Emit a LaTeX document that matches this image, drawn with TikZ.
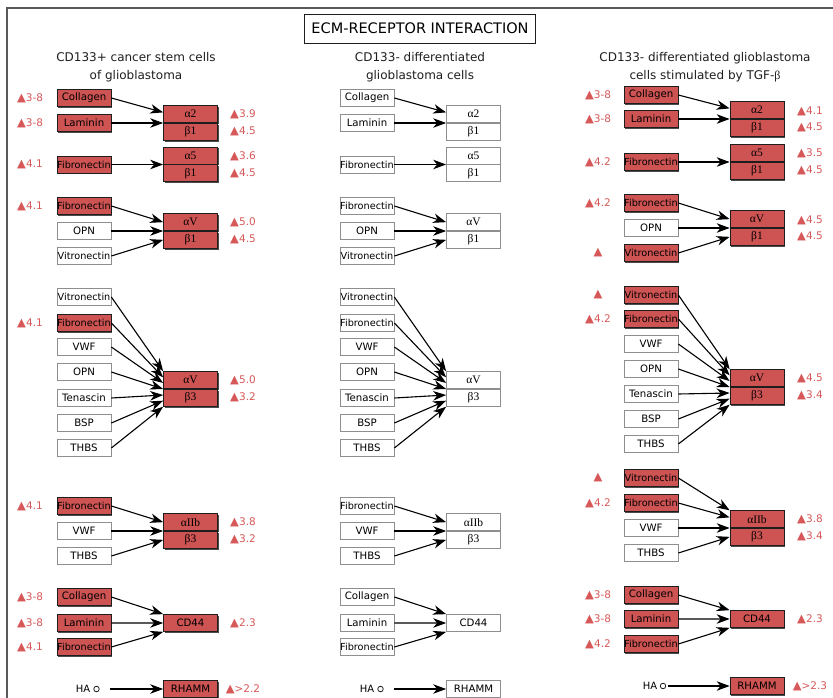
\documentclass[tikz,border=0pt]{standalone}
\usepackage{fontspec}
\setmainfont{DejaVu Sans}
\newfontfamily\rfam{Liberation Serif}
\usepackage{tikz}
\usetikzlibrary{arrows.meta,calc,shadows}
\definecolor{cR}{HTML}{CE5353}
\definecolor{cT}{HTML}{D75858}
\definecolor{cG}{HTML}{8E8E8E}
\definecolor{cK}{HTML}{1E1E1E}
\newcommand{\upm}{{\fontsize{11.5}{10}\selectfont ▲}}
% receptor made of two stacked halves
\newcommand{\rcp}[6]{%
  \node[#4,intg,anchor=south] (#1t) at (#2,#3) {#5};
  \node[#4,intg,anchor=north] (#1b) at (#2,#3) {#6};}
\tikzset{
  box/.style={draw=cG,fill=white,line width=0.7pt,minimum width=54pt,minimum height=17pt,inner sep=0pt,font=\fontsize{10.2}{10}\selectfont},
  boxr/.style={box,draw=cK,fill=cR,general shadow={fill=black!70,shadow xshift=1.3pt,shadow yshift=-1.3pt}},
  ligw/.style={box},
  ligr/.style={boxr},
  ligws/.style={box,font=\fontsize{9.7}{10}\selectfont},
  ligrs/.style={boxr,font=\fontsize{9.7}{10}\selectfont},
  recw/.style={box},
  recr/.style={boxr},
  intg/.style={font=\rfam\fontsize{11.5}{12}\selectfont},
  up/.style={text=cT,font=\fontsize{10.5}{10}\selectfont,inner sep=0pt},
  head/.style={align=center,font=\fontsize{12}{18}\selectfont,text=cK},
  ttl/.style={draw=cK,line width=0.9pt,minimum width=231pt,minimum height=29pt,font=\fontsize{14.5}{16}\selectfont},
  bind/.style={-{Stealth[length=13pt,width=9.5pt,inset=4pt]},line width=1.1pt,black},
  ha/.style={font=\fontsize{10}{10}\selectfont,inner sep=0pt},
  hadot/.style={circle,draw=cK,line width=0.8pt,minimum size=5.5pt,inner sep=0pt},
  frame/.style={draw=black!65,line width=1.5pt},
}
\begin{document}
\begin{tikzpicture}[x=1pt,y=-1pt]
\useasboundingbox (0,0) rectangle (833,698);
\draw[frame] (7,698) |- (833,8);
\node[ttl] (ttl) at (420,28.5) {ECM-RECEPTOR INTERACTION};
\node[head] (h1) at (136,67) {CD133+ cancer stem cells\\of glioblastoma};
\node[head] (h2) at (420,67) {CD133- differentiated\\glioblastoma cells};
\node[head] (h3) at (705,67) {CD133- differentiated glioblastoma\\cells stimulated by TGF-{\rfam β}};

% CD133+ cancer stem cells
\rcp{c1A}{190.5}{123}{recr}{α2}{β1}
\foreach \n/\txt/\y/\sty/\fr in {col/Collagen/98/ligr/.2,lam/Laminin/123/ligr/.5}{
  \node[\sty] (c1A\n) at (84,\y) {\txt};
  \draw[bind] (c1A\n.east) -- ($(c1At.north west)!\fr!(c1Ab.south west)$);}
\rcp{c1B}{190.5}{164.5}{recr}{α5}{β1}
\foreach \n/\txt/\y/\sty/\fr in {fib/Fibronectin/164.5/ligrs/.5}{
  \node[\sty] (c1B\n) at (84,\y) {\txt};
  \draw[bind] (c1B\n.east) -- ($(c1Bt.north west)!\fr!(c1Bb.south west)$);}
\rcp{c1C}{190.5}{231}{recr}{αV}{β1}
\foreach \n/\txt/\y/\sty/\fr in {fib/Fibronectin/206/ligrs/.25,opn/OPN/231/ligw/.5,vit/Vitronectin/256/ligws/.75}{
  \node[\sty] (c1C\n) at (84,\y) {\txt};
  \draw[bind] (c1C\n.east) -- ($(c1Ct.north west)!\fr!(c1Cb.south west)$);}
\rcp{c1D}{190.5}{389}{recr}{αV}{β3}
\foreach \n/\txt/\y/\sty/\fr in {vit/Vitronectin/297/ligws/0,fib/Fibronectin/323/ligrs/.17,vwf/VWF/347/ligw/.33,
    opn/OPN/372/ligw/.5,ten/Tenascin/398/ligw/.67,bsp/BSP/423/ligw/.83,thb/THBS/448/ligw/1}{
  \node[\sty] (c1D\n) at (84,\y) {\txt};
  \draw[bind] (c1D\n.east) -- ($(c1Dt.north west)!\fr!(c1Db.south west)$);}
\rcp{c1E}{190.5}{531}{recr}{αIIb}{β3}
\foreach \n/\txt/\y/\sty/\fr in {fib/Fibronectin/506/ligrs/.25,vwf/VWF/531/ligw/.5,thb/THBS/556/ligw/.75}{
  \node[\sty] (c1E\n) at (84,\y) {\txt};
  \draw[bind] (c1E\n.east) -- ($(c1Et.north west)!\fr!(c1Eb.south west)$);}
\node[recr] (c1F) at (190.5,623) {CD44};
\foreach \n/\txt/\y/\sty/\fr in {col/Collagen/597/ligr/0,lam/Laminin/623/ligr/.5,fib/Fibronectin/647/ligrs/1}{
  \node[\sty] (c1F\n) at (84,\y) {\txt};
  \draw[bind] (c1F\n.east) -- ($(c1F.north west)!\fr!(c1F.south west)$);}
\node[ha] (c1ha) at (83,689) {HA};
\node[hadot] (c1hao) at (96.5,689) {};
\coordinate (c1has) at (110,689);
\node[recr] (c1G) at (190.5,689) {RHAMM};
\draw[bind] (c1has) -- (c1G);
\foreach \y/\val [count=\k] in {98/3-8,123/3-8,164.5/4.1,206/4.1,323/4.1,506/4.1,597/3-8,623/3-8,647/4.1}
  \node[up] (c1l\k) at (30,\y) {\upm\val};
\foreach \y/\val [count=\k] in {114.5/3.9,131.5/4.5,156/3.6,173/4.5,222.5/5.0,239.5/4.5,380.5/5.0,397.5/3.2,
    522.5/3.8,539.5/3.2,623/2.3,689/>2.2}
  \node[up] (c1r\k) at (243,\y) {\upm\val};

% CD133- differentiated
\rcp{c2A}{473.5}{123}{recw}{α2}{β1}
\foreach \n/\txt/\y/\sty/\fr in {col/Collagen/98/ligw/.2,lam/Laminin/123/ligw/.5}{
  \node[\sty] (c2A\n) at (367,\y) {\txt};
  \draw[bind] (c2A\n.east) -- ($(c2At.north west)!\fr!(c2Ab.south west)$);}
\rcp{c2B}{473.5}{164.5}{recw}{α5}{β1}
\foreach \n/\txt/\y/\sty/\fr in {fib/Fibronectin/164.5/ligws/.5}{
  \node[\sty] (c2B\n) at (367,\y) {\txt};
  \draw[bind] (c2B\n.east) -- ($(c2Bt.north west)!\fr!(c2Bb.south west)$);}
\rcp{c2C}{473.5}{231}{recw}{αV}{β1}
\foreach \n/\txt/\y/\sty/\fr in {fib/Fibronectin/206/ligws/.25,opn/OPN/231/ligw/.5,vit/Vitronectin/256/ligws/.75}{
  \node[\sty] (c2C\n) at (367,\y) {\txt};
  \draw[bind] (c2C\n.east) -- ($(c2Ct.north west)!\fr!(c2Cb.south west)$);}
\rcp{c2D}{473.5}{389}{recw}{αV}{β3}
\foreach \n/\txt/\y/\sty/\fr in {vit/Vitronectin/297/ligws/0,fib/Fibronectin/323/ligws/.17,vwf/VWF/347/ligw/.33,
    opn/OPN/372/ligw/.5,ten/Tenascin/398/ligw/.67,bsp/BSP/423/ligw/.83,thb/THBS/448/ligw/1}{
  \node[\sty] (c2D\n) at (367,\y) {\txt};
  \draw[bind] (c2D\n.east) -- ($(c2Dt.north west)!\fr!(c2Db.south west)$);}
\rcp{c2E}{473.5}{531}{recw}{αIIb}{β3}
\foreach \n/\txt/\y/\sty/\fr in {fib/Fibronectin/506/ligws/.25,vwf/VWF/531/ligw/.5,thb/THBS/556/ligw/.75}{
  \node[\sty] (c2E\n) at (367,\y) {\txt};
  \draw[bind] (c2E\n.east) -- ($(c2Et.north west)!\fr!(c2Eb.south west)$);}
\node[recw] (c2F) at (473.5,623) {CD44};
\foreach \n/\txt/\y/\sty/\fr in {col/Collagen/597/ligw/0,lam/Laminin/623/ligw/.5,fib/Fibronectin/647/ligws/1}{
  \node[\sty] (c2F\n) at (367,\y) {\txt};
  \draw[bind] (c2F\n.east) -- ($(c2F.north west)!\fr!(c2F.south west)$);}
\node[ha] (c2ha) at (367,689) {HA};
\node[hadot] (c2hao) at (380.5,689) {};
\coordinate (c2has) at (394,689);
\node[recw] (c2G) at (473.5,689) {RHAMM};
\draw[bind] (c2has) -- (c2G);

% CD133- differentiated, TGF-beta
\rcp{c3A}{757}{119}{recr}{α2}{β1}
\foreach \n/\txt/\y/\sty/\fr in {col/Collagen/95/ligr/.2,lam/Laminin/119/ligr/.5}{
  \node[\sty] (c3A\n) at (651,\y) {\txt};
  \draw[bind] (c3A\n.east) -- ($(c3At.north west)!\fr!(c3Ab.south west)$);}
\rcp{c3B}{757}{162}{recr}{α5}{β1}
\foreach \n/\txt/\y/\sty/\fr in {fib/Fibronectin/162/ligrs/.5}{
  \node[\sty] (c3B\n) at (651,\y) {\txt};
  \draw[bind] (c3B\n.east) -- ($(c3Bt.north west)!\fr!(c3Bb.south west)$);}
\rcp{c3C}{757}{228}{recr}{αV}{β1}
\foreach \n/\txt/\y/\sty/\fr in {fib/Fibronectin/203/ligrs/.25,opn/OPN/228/ligw/.5,vit/Vitronectin/253/ligrs/.75}{
  \node[\sty] (c3C\n) at (651,\y) {\txt};
  \draw[bind] (c3C\n.east) -- ($(c3Ct.north west)!\fr!(c3Cb.south west)$);}
\rcp{c3D}{757}{387}{recr}{αV}{β3}
\foreach \n/\txt/\y/\sty/\fr in {vit/Vitronectin/295/ligrs/0,fib/Fibronectin/319/ligrs/.17,vwf/VWF/344/ligw/.33,
    opn/OPN/369/ligw/.5,ten/Tenascin/394/ligw/.67,bsp/BSP/419/ligw/.83,thb/THBS/444/ligw/1}{
  \node[\sty] (c3D\n) at (651,\y) {\txt};
  \draw[bind] (c3D\n.east) -- ($(c3Dt.north west)!\fr!(c3Db.south west)$);}
\rcp{c3E}{757}{528}{recr}{αIIb}{β3}
\foreach \n/\txt/\y/\sty/\fr in {vit/Vitronectin/478/ligrs/0,fib/Fibronectin/503/ligrs/.2,vwf/VWF/528/ligw/.5,thb/THBS/553/ligw/.75}{
  \node[\sty] (c3E\n) at (651,\y) {\txt};
  \draw[bind] (c3E\n.east) -- ($(c3Et.north west)!\fr!(c3Eb.south west)$);}
\node[recr] (c3F) at (757,619) {CD44};
\foreach \n/\txt/\y/\sty/\fr in {col/Collagen/595/ligr/0,lam/Laminin/619/ligr/.5,fib/Fibronectin/644/ligrs/1}{
  \node[\sty] (c3F\n) at (651,\y) {\txt};
  \draw[bind] (c3F\n.east) -- ($(c3F.north west)!\fr!(c3F.south west)$);}
\node[ha] (c3ha) at (650,686) {HA};
\node[hadot] (c3hao) at (663,686) {};
\coordinate (c3has) at (668,686);
\node[recr] (c3G) at (757,686) {RHAMM};
\draw[bind] (c3has) -- (c3G);
\foreach \y/\val [count=\k] in {95/3-8,119/3-8,162/4.2,203/4.2,253/{},295/{},319/4.2,478/{},503/4.2,595/3-8,619/3-8,644/4.2}
  \node[up] (c3l\k) at (598,\y) {\upm\val};
\foreach \y/\val [count=\k] in {111/4.1,127.5/4.5,153.5/3.5,170/4.5,220/4.5,236.5/4.5,378.5/4.5,395/3.4,
    519.5/3.8,536/3.4,619/2.3,686/>2.3}
  \node[up] (c3r\k) at (810,\y) {\upm\val};
\end{tikzpicture}
\end{document}
